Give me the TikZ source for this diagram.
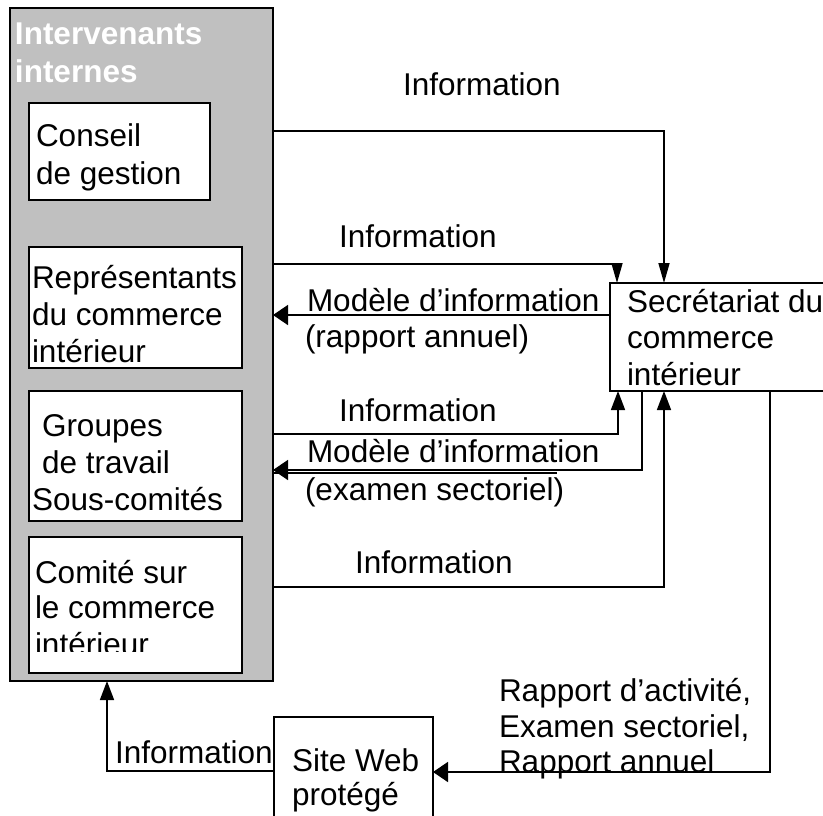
\documentclass[tikz,border=0pt]{standalone}
\usepackage{fontspec}
\setmainfont{Liberation Sans}
\usetikzlibrary{arrows.meta}
\definecolor{panelgray}{HTML}{C0C0C0}
\newcommand{\lines}[1]{\begin{tabular}[t]{@{}l@{}}#1\end{tabular}}
\begin{document}
\begin{tikzpicture}[x=1pt,y=-1pt,
  every node/.style={inner sep=0pt, outer sep=0pt},
  txt/.style={anchor=base west, font=\fontsize{31.5}{37}\selectfont},
  box/.style={draw, line width=1.8pt, fill=white, anchor=north west, inner sep=0pt},
  plain/.style={line width=1.6pt},
  flow/.style={plain, -{Triangle[length=19pt,width=14pt]}},
  flowdown/.style={plain, -{Triangle[length=20pt,width=11pt]}},
  flowleft/.style={plain, -{Triangle[length=15pt,width=20pt]}}]
\clip (0,0) rectangle (823,815);

% internal stakeholders panel
\node[box, fill=panelgray, line width=2pt, minimum width=263pt, minimum height=673pt] (grp) at (10,8) {};
\node[txt, text=white, font=\fontsize{31.5}{38}\selectfont\bfseries] (title) at (15,44)
  {\lines{Intervenants\\internes}};

\node[box, minimum width=181pt, minimum height=97pt] (conseil) at (29,103) {};
\node[txt] (conseiltxt) at (36,146) {\lines{Conseil\\[1pt]de gestion}};

\node[box, minimum width=213pt, minimum height=121pt] (repr) at (29,247) {};
\node[txt] (reprtxt) at (32,288) {\lines{Représentants\\du commerce\\intérieur}};

\node[box, minimum width=213pt, minimum height=130pt] (groupes) at (29,391) {};
\node[txt] (groupestxt) at (32,436)
  {\lines{\hspace*{10pt}Groupes\\\hspace*{10pt}de travail\\Sous-comités}};

\node[box, minimum width=213pt, minimum height=136pt] (comite) at (29,537) {};
\begin{scope}
  \clip (29,537) rectangle (242,651);
  \node[txt] (comitetxt) at (35,583) {\lines{Comité sur\\[-2pt]le commerce\\intérieur}};
\end{scope}

% secretariat and protected web site
\node[box, minimum width=230pt, minimum height=108pt] (sec) at (610,283) {};
\node[txt] (sectxt) at (627,312) {\lines{Secrétariat du\\[-1pt]commerce\\intérieur}};

\node[box, minimum width=159pt, minimum height=120pt] (web) at (274,717) {};
\node[txt] (webtxt) at (292,771) {\lines{Site Web\\[-3pt]protégé}};

% flow labels
\node[txt] (l1) at (403,95) {Information};
\node[txt] (l2) at (339,247) {Information};
\node[txt] (l3) at (307,311) {Modèle d’information};
\node[txt] (l4) at (305,347) {(rapport annuel)};
\node[txt] (l5) at (339,421) {Information};
\node[txt] (l6) at (307,462) {Modèle d’information};
\node[txt] (l7) at (305,500) {(examen sectoriel)};
\node[txt] (l8) at (355,573) {Information};
\node[txt] (l9) at (499,701) {\lines{Rapport d’activité,\\[-1pt]Examen sectoriel,\\[-2pt]Rapport annuel}};
\node[txt] (l10) at (115,763) {Information};

% flows
\draw[flowdown] (grp.east |- 0,131) -| (sec.north -| 664,0);
\draw[flowdown] (grp.east |- 0,264) -| (sec.north -| 617,0);
\draw[flowleft] (sec.west |- 0,315) -- (grp.east |- 0,315);
\draw[flow] (grp.east |- 0,434) -| (sec.south -| 618,0);
\draw[flowleft] (sec.south -| 642,0) |- (grp.east |- 0,470);
\draw[plain] (grp.east |- 0,473) -- (557,473);
\draw[flow] (grp.east |- 0,587) -| (sec.south -| 664,0);
\draw[flowleft] (sec.south -| 770,0) |- (web.east |- 0,772);
\draw[flow] (web.west |- 0,771) -| (grp.south -| 107,0);
\end{tikzpicture}
\end{document}
